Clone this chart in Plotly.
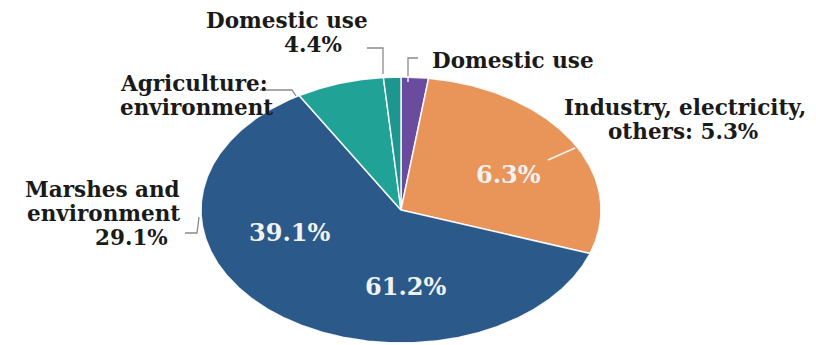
import numpy as np
import plotly.graph_objects as go

# Slice data, clockwise from 12 o'clock
slice_names = ["Domestic use", "Industry, electricity, others", "Marshes and environment",
               "Agriculture: environment", "Domestic use (other)"]
slice_shares = [2.2, 28.1, 61.2, 7.1, 1.4]
slice_colors = ["#6a4c9e", "#e99459", "#2b5a8a", "#21a296", "#1d9690"]

# Text shown on the chart: (text, x, y, anchor)
outside_labels = [
    ("Domestic use", 287, 20, "center"), ("4.4%", 313, 44, "center"),
    ("Domestic use", 430, 60, "left"),
    ("Agriculture:", 118, 83, "left"), ("environment", 118, 107, "left"),
    ("Industry, electricity,", 685, 107, "center"), ("others: 5.3%", 683, 131, "center"),
    ("Marshes and", 182, 189, "right"), ("environment", 182, 213, "right"),
    ("29.1%", 170, 237, "right"),
]
inside_labels = [("39.1%", 289, 232), ("61.2%", 405, 286), ("6.3%", 508, 174)]

W, H = 816, 345
CX, CY, RX, RY = 401, 210, 200, 133  # ellipse centre and radii in pixel units

fig = go.Figure()

total = sum(slice_shares)
start = 0.0
for name, share, color in zip(slice_names, slice_shares, slice_colors):
    end = start + share / total * 360.0
    ang = np.radians(np.linspace(start, end, max(int((end - start) * 2), 4)))
    xs = np.concatenate([[CX], CX + RX * np.sin(ang), [CX]])
    ys = np.concatenate([[CY], CY - RY * np.cos(ang), [CY]])
    fig.add_trace(go.Scatter(x=xs, y=ys, mode="lines", fill="toself",
                             fillcolor=color, name=name,
                             line=dict(color="rgba(255,255,255,0.9)", width=1.5),
                             hoverinfo="name"))
    start = end

for text, x, y, anchor in outside_labels:
    fig.add_annotation(x=x, y=y, text=f"<b>{text}</b>", showarrow=False,
                       font=dict(family="DejaVu Serif", size=21.5, color="#1a1a1a"),
                       xanchor=anchor, yanchor="middle")
for text, x, y in inside_labels:
    fig.add_annotation(x=x, y=y, text=f"<b>{text}</b>", showarrow=False,
                       font=dict(family="DejaVu Serif", size=24, color="#f2f2f2"),
                       xanchor="center", yanchor="middle")

# Leader lines
grey = dict(color="#8a8a8a", width=1.3)
white = dict(color="rgba(255,255,255,0.9)", width=1.5)
leaders = [
    ([367, 383, 383], [48, 48, 74], grey),
    ([383, 383], [74, 78], white),
    ([418, 408, 408], [58, 58, 76], grey),
    ([408, 408], [76, 82], white),
    ([260, 292, 296], [90, 90, 96], grey),
    ([548, 575], [160, 148], white),
    ([185, 197, 199], [233, 233, 217], grey),
]
for xs, ys, ln in leaders:
    fig.add_trace(go.Scatter(x=xs, y=ys, mode="lines", line=ln,
                             hoverinfo="skip", showlegend=False))

fig.update_layout(
    width=W, height=H, margin=dict(l=0, r=0, t=0, b=0),
    paper_bgcolor="white", plot_bgcolor="white", showlegend=False,
    xaxis=dict(range=[0, W], visible=False, fixedrange=True),
    yaxis=dict(range=[H, 0], visible=False, fixedrange=True),
)

fig.write_html("out.html")
